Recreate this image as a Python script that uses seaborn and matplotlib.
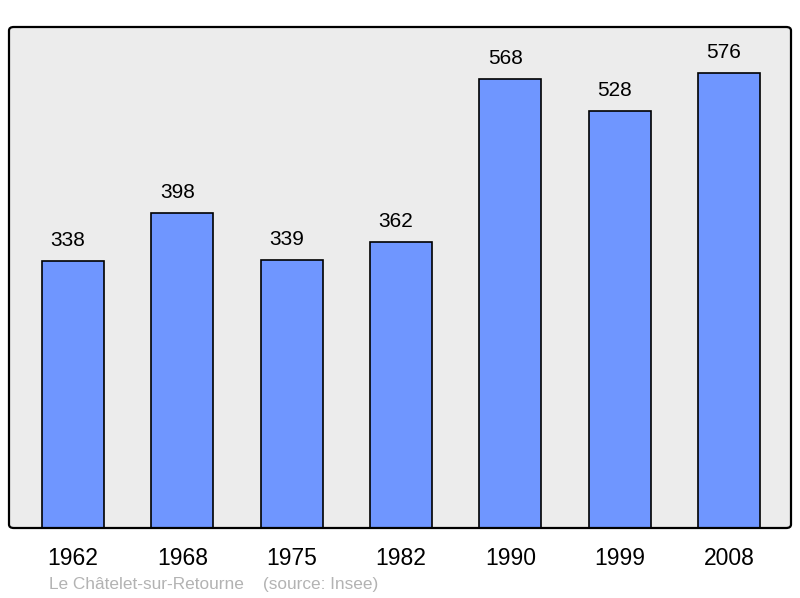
import matplotlib
matplotlib.use("Agg")
import matplotlib.pyplot as plt
import seaborn as sns
import pandas as pd
from matplotlib.patches import FancyBboxPatch

years = ["1962", "1968", "1975", "1982", "1990", "1999", "2008"]
population = [338, 398, 339, 362, 568, 528, 576]
footer = "Le Châtelet-sur-Retourne    (source: Insee)"

sns.set_theme(style="white")
plt.rcParams['font.family'] = ['Liberation Sans', 'DejaVu Sans']

df = pd.DataFrame({"year": years, "pop": population})

fig = plt.figure(figsize=(8, 5.98), dpi=100)
ax = fig.add_axes([9/800, 1 - 528/598, 782/800, 501/598])
ax.set_facecolor("#ececec")

sns.barplot(data=df, x="year", y="pop", color="#6f96ff", saturation=1,
            width=0.567, edgecolor="black", linewidth=1.2, ax=ax)

ax.set_xlim(-0.585, 6.567)
ax.set_ylim(0, 634)
for i, v in enumerate(population):
    ax.annotate(str(v), (i, v), xytext=(-3.6, 8), textcoords="offset points",
                ha="center", va="bottom", fontsize=15, color="black")

ax.set_xlabel("")
ax.set_ylabel("")
ax.set_yticks([])
ax.tick_params(axis="x", length=0, labelsize=16.5, pad=14, colors="black")
for s in ax.spines.values():
    s.set_visible(False)

frame = FancyBboxPatch((9/800, 1 - 528/598), 782/800, 501/598,
                       boxstyle="round,pad=0,rounding_size=0.006",
                       transform=fig.transFigure, facecolor="none",
                       edgecolor="black", linewidth=1.6, zorder=10)
fig.patches.append(frame)

fig.text(49/800, 1 - 585/598, footer, fontsize=12.4, color="#b3b3b3",
         ha="left", va="center")

fig.savefig("out.png", dpi=100)
